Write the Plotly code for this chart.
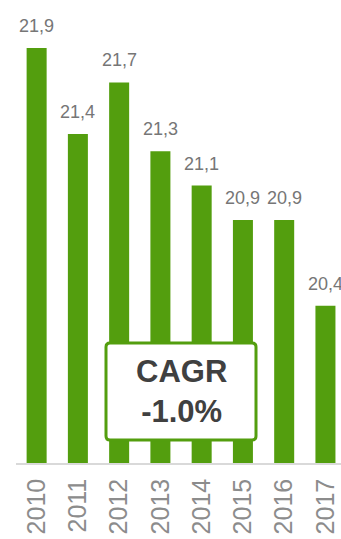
import plotly.graph_objects as go

# Yearly values shown above each bar
years = ["2010", "2011", "2012", "2013", "2014", "2015", "2016", "2017"]
values = [21.9, 21.4, 21.7, 21.3, 21.1, 20.9, 20.9, 20.4]
cagr_label = "CAGR<br>-1.0%"

BAR_GREEN = "#539E0E"
LABEL_GRAY = "#767676"
TICK_GRAY = "#8c8c8c"
FONT = "Liberation Sans, Arial, sans-serif"

W, H = 341, 539
M_L, M_R, M_T, M_B = 16, 0, 0, 76
PLOT_W = W - M_L - M_R
PLOT_H = H - M_T - M_B

fig = go.Figure(
    go.Bar(
        x=years,
        y=values,
        marker=dict(color=BAR_GREEN, line=dict(width=0)),
        hoverinfo="skip",
    )
)

# Value labels above the bars (decimal comma); x given as category index
for i, v in enumerate(values):
    fig.add_annotation(
        x=i, y=v, xref="x", yref="y",
        text=f"{v:.1f}".replace(".", ","),
        showarrow=False, yanchor="bottom", yshift=10,
        font=dict(family=FONT, size=18, color=LABEL_GRAY),
    )

# CAGR call-out box with slightly rounded corners (pixel geometry -> paper units)
def px_x(p):
    return (p - M_L) / PLOT_W

def px_y(p):
    return (PLOT_H - (p - M_T)) / PLOT_H

x0, x1, y0, y1, r = 106, 256, 343, 440, 4
rx, ry = r / PLOT_W, r / PLOT_H
X0, X1, Y0, Y1 = px_x(x0), px_x(x1), px_y(y1), px_y(y0)
path = (
    f"M {X0+rx},{Y0} L {X1-rx},{Y0} Q {X1},{Y0} {X1},{Y0+ry} "
    f"L {X1},{Y1-ry} Q {X1},{Y1} {X1-rx},{Y1} "
    f"L {X0+rx},{Y1} Q {X0},{Y1} {X0},{Y1-ry} "
    f"L {X0},{Y0+ry} Q {X0},{Y0} {X0+rx},{Y0} Z"
)
fig.add_shape(
    type="path", path=path, xref="paper", yref="paper",
    fillcolor="white", line=dict(color=BAR_GREEN, width=3), layer="above",
)
fig.add_annotation(
    x=(X0 + X1) / 2, y=(Y0 + Y1) / 2, xref="paper", yref="paper",
    text=f"<b>{cagr_label}</b>", showarrow=False,
    xanchor="center", yanchor="middle",
    font=dict(family=FONT, size=31, color="#404040"),
)

fig.update_layout(
    width=W, height=H,
    margin=dict(l=M_L, r=M_R, t=M_T, b=M_B),
    paper_bgcolor="white", plot_bgcolor="white",
    bargap=0.515,
    showlegend=False,
    xaxis=dict(
        type="category",
        range=[-0.5, 7.377],
        automargin=False,
        tickangle=-90,
        tickfont=dict(family=FONT, size=25, color=TICK_GRAY),
        ticks="outside", ticklen=4, tickcolor="rgba(0,0,0,0)",
        showline=True, linecolor="#d9d9d9", linewidth=1.5,
        showgrid=False, zeroline=False,
    ),
    yaxis=dict(
        range=[19.485, 22.18],
        automargin=False,
        visible=False, showgrid=False, zeroline=False,
    ),
)

fig.write_html("out.html")
